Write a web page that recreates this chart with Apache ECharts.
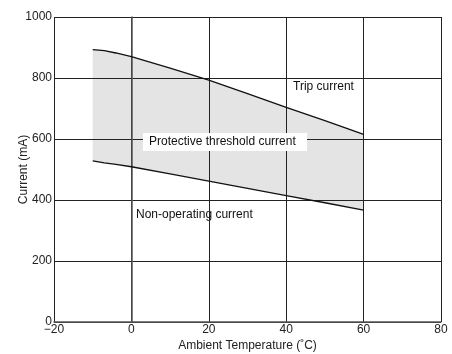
<!DOCTYPE html>
<html><head><meta charset="utf-8">
<script src="https://cdn.jsdelivr.net/npm/echarts@6/dist/echarts.min.js"></script>
<style>html,body{margin:0;padding:0;background:#fff}#c{width:452px;height:354px}</style>
</head><body><div id="c"></div>
<script>
var temps = [-10, -7, -4, 0, 10, 20, 30, 40, 50, 60];
var tripCurrent = [893, 890, 882, 870, 832, 793, 749, 704, 660, 615];
var nonOperating = [528, 522, 517, 509, 486, 462, 438, 414, 391, 367];
var xTicks = [-20, 0, 20, 40, 60, 80];
var yTicks = [0, 200, 400, 600, 800, 1000];

var lower = nonOperating.map(function (v, i) { return [temps[i], v]; });
var upper = tripCurrent.map(function (v, i) { return [temps[i], v]; });

var font = 'Liberation Sans, Arial, sans-serif';
var chart = echarts.init(document.getElementById('c'), null, {renderer: 'canvas'});
chart.setOption({
  animation: false,
  grid: {left: 54, right: 11, top: 17, bottom: 32, containLabel: false, outerBoundsMode: 'none'},
  xAxis: {
    type: 'value', min: xTicks[0], max: xTicks[xTicks.length - 1], interval: 20,
    name: 'Ambient Temperature (˚C)', nameLocation: 'middle', nameGap: 18, nameMoveOverlap: false,
    nameTextStyle: {fontFamily: font, fontSize: 12, color: '#222'},
    axisLine: {lineStyle: {color: '#555', width: 1.5}},
    axisTick: {show: false},
    axisLabel: {fontFamily: font, fontSize: 12, color: '#222', margin: 2,
      formatter: function (v) { return String(v).replace('-', '\u2212'); }},
    splitLine: {show: true, lineStyle: {color: '#222', width: 1}}
  },
  yAxis: {
    type: 'value', min: yTicks[0], max: yTicks[yTicks.length - 1], interval: 200,
    name: 'Current (mA)', nameLocation: 'middle', nameGap: 24, nameMoveOverlap: false,
    nameTextStyle: {fontFamily: font, fontSize: 12, color: '#222'},
    axisLine: {show: true, lineStyle: {color: '#555', width: 1.5}},
    axisTick: {show: false},
    axisLabel: {fontFamily: font, fontSize: 12, color: '#222', margin: 2,
      formatter: function (v) { return String(v); }},
    splitLine: {show: true, lineStyle: {color: '#222', width: 1}}
  },
  series: [
    {type: 'custom', data: [0], z: -1, silent: true,
      renderItem: function (params, api) {
        var pts = [];
        upper.forEach(function (p) { pts.push(api.coord(p)); });
        for (var i = lower.length - 1; i >= 0; i--) pts.push(api.coord(lower[i]));
        return {type: 'polygon', shape: {points: pts}, style: {fill: '#e4e4e4', stroke: null}};
      }},
    {type: 'line', data: upper, symbol: 'none', lineStyle: {color: '#111', width: 1.3}, z: 5},
    {type: 'line', data: lower, symbol: 'none', lineStyle: {color: '#111', width: 1.3}, z: 5}
  ],
  graphic: [
    {type: 'text', left: 293, top: 81, style: {text: 'Trip current', font: '12px ' + font, fill: '#111'}},
    {type: 'rect', left: 143, top: 133, shape: {width: 164, height: 18}, style: {fill: '#fff'}, z: 10},
    {type: 'text', left: 149, top: 136, z: 11, style: {text: 'Protective threshold current', font: '12px ' + font, fill: '#111'}},
    {type: 'text', left: 136, top: 209, style: {text: 'Non-operating current', font: '12px ' + font, fill: '#111'}}
  ]
});
</script></body></html>
